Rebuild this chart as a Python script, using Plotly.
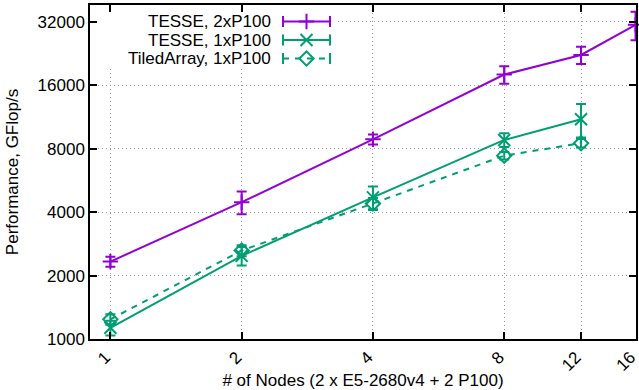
import plotly.graph_objects as go
import math

# ---- data ----
nodes = [1, 2, 4, 8, 12, 16]
node_labels = ["1", "2", "4", "8", "12", "16"]
tesse2 = [2330, 4460, 8870, 18000, 22300, 31000]
tesse2_err = [130, 550, 480, 1700, 2100, 4800]

nodes1 = [1, 2, 4, 8, 12]
tesse1 = [1130, 2480, 4700, 8810, 11040]
tesse1_err = [90, 250, 600, 660, 2000]

tiled = [1240, 2630, 4400, 7420, 8500]
tiled_err = [70, 160, 270, 300, 400]

y_ticks = [1000, 2000, 4000, 8000, 16000, 32000]
series_names = ["TESSE, 2xP100", "TESSE, 1xP100", "TiledArray, 1xP100"]

PURPLE = "#9400D3"
GREEN = "#009E73"
FONT = "Liberation Sans, Arial, Helvetica, sans-serif"
FS = 17

fig = go.Figure()

fig.add_trace(go.Scatter(
    x=nodes, y=tesse2, mode="lines+markers", name=series_names[0],
    line=dict(color=PURPLE, width=2),
    marker=dict(symbol="cross-thin", size=11, line=dict(color=PURPLE, width=2)),
    error_y=dict(type="data", array=tesse2_err, color=PURPLE, thickness=2, width=5),
    showlegend=False, cliponaxis=False))

fig.add_trace(go.Scatter(
    x=nodes1, y=tesse1, mode="lines+markers", name=series_names[1],
    line=dict(color=GREEN, width=2),
    marker=dict(symbol="x-thin", size=12, line=dict(color=GREEN, width=2)),
    error_y=dict(type="data", array=tesse1_err, color=GREEN, thickness=2, width=5),
    showlegend=False, cliponaxis=False))

fig.add_trace(go.Scatter(
    x=nodes1, y=tiled, mode="lines+markers", name=series_names[2],
    line=dict(color=GREEN, width=2, dash="6px,6px"),
    marker=dict(symbol="diamond-open", size=11, color=GREEN, line=dict(color=GREEN, width=2)),
    error_y=dict(type="data", array=tiled_err, color=GREEN, thickness=2, width=5),
    showlegend=False, cliponaxis=False))

# ---- custom gnuplot-style key on an overlay pixel-unit subplot ----
# white background of the key (hides the dotted grid behind it)
fig.add_trace(go.Scatter(
    x=[93, 338, 338, 93, 93], y=[13, 13, 66, 66, 13], xaxis="x2", yaxis="y2",
    mode="lines", fill="toself", fillcolor="white", line=dict(width=0, color="white"),
    showlegend=False, hoverinfo="skip"))

rows = [21.5, 40, 58.5]
styles = [
    (PURPLE, "solid", "cross-thin", 11),
    (GREEN, "solid", "x-thin", 12),
    (GREEN, "6px,6px", "diamond-open", 11),
]
for yy, name, (col, dash, sym, sz) in zip(rows, series_names, styles):
    fig.add_trace(go.Scatter(
        x=[283, 330], y=[yy, yy], mode="lines+markers", xaxis="x2", yaxis="y2",
        line=dict(color=col, width=2, dash=dash),
        marker=dict(symbol="line-ns", size=8, color=col, line=dict(color=col, width=2)),
        showlegend=False, hoverinfo="skip"))
    fig.add_trace(go.Scatter(
        x=[306.5], y=[yy], mode="markers", xaxis="x2", yaxis="y2",
        marker=dict(symbol=sym, size=sz, color=col, line=dict(color=col, width=2)),
        showlegend=False, hoverinfo="skip"))
    fig.add_annotation(x=273, y=yy, xref="x2", yref="y2", text=name,
                       showarrow=False, xanchor="right", yanchor="middle",
                       font=dict(family=FONT, size=FS, color="black"))

axis_common = dict(
    showline=True, linecolor="black", linewidth=1.5, mirror="ticks",
    ticks="inside", ticklen=7, tickcolor="black", tickwidth=1.5,
    showgrid=True, gridcolor="#9a9a9a", gridwidth=1, griddash="1px,3px",
    zeroline=False, tickfont=dict(family=FONT, size=FS, color="black"),
    automargin=False, ticklabeloverflow="allow",
)

fig.update_layout(
    width=639, height=390,
    margin=dict(l=90, r=3, t=5, b=51),
    plot_bgcolor="white", paper_bgcolor="white",
    font=dict(family=FONT, size=FS, color="black"),
    xaxis=dict(type="log", range=[math.log10(0.898), math.log10(16.04)],
               tickvals=nodes, ticktext=node_labels, tickangle=-45,
               ticklabelshift=-5,
               title=dict(text="# of Nodes (2 x E5-2680v4 + 2 P100)",
                          font=dict(family=FONT, size=FS)),
               **axis_common),
    yaxis=dict(type="log", range=[3, math.log10(38500)],
               tickvals=y_ticks, ticktext=[str(v) for v in y_ticks],
               title=dict(text="Performance, GFlop/s",
                          font=dict(family=FONT, size=FS)),
               **axis_common),
    xaxis2=dict(overlaying="x", range=[90, 636], visible=False, anchor="y2",
                fixedrange=True),
    yaxis2=dict(overlaying="y", range=[339, 5], visible=False, anchor="x2",
                fixedrange=True),
)

fig.write_html("out.html", config={"displayModeBar": False},
               post_script="document.body.style.margin='0';document.body.style.overflow='hidden';")
